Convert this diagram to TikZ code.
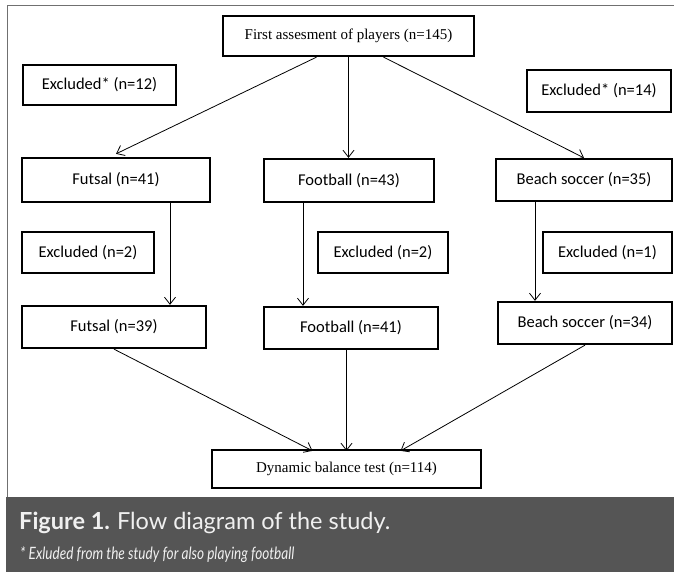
\documentclass[tikz,border=0pt]{standalone}
\usepackage{fontspec}
\setmainfont{Carlito}
\newfontfamily\timesfont{Liberation Serif}
\newfontfamily\capfont{Lato}
\newfontfamily\notefont[FakeStretch=0.8]{Lato}
\usetikzlibrary{arrows.meta}
\definecolor{bandgray}{HTML}{555555}
\definecolor{framegray}{HTML}{707070}

\begin{document}
\begin{tikzpicture}[x=1pt, y=-1pt,
  box/.style 2 args={draw, line width=2.3pt, inner sep=0pt, minimum width=#1, minimum height=#2,
    font=\fontsize{16.5}{19}\selectfont},
  tbox/.style 2 args={box={#1}{#2}, font=\timesfont\fontsize{15}{18}\selectfont},
  arr/.style={-{Straight Barb[length=7pt,width=11pt]}, line width=0.8pt}]

\useasboundingbox (0,0) rectangle (674,572);
\fill[bandgray] (6,497) rectangle (674,572);
\draw[framegray, line width=1pt] (7,497) -- (7,6) -- (674,6);

\node[tbox={251pt}{40pt}] (first) at (348.5,36) {First assesment of players (n=145)};
\node[box={153pt}{40pt}] (exfut) at (99.5,85) {Excluded* (n=12)};
\node[box={144pt}{42pt}] (exbeach) at (599,91) {Excluded* (n=14)};

\node[box={188pt}{44pt}] (futA) at (116,180) {Futsal (n=41)};
\node[box={170pt}{43pt}] (footA) at (349,180.5) {Football (n=43)};
\node[box={176pt}{42pt}] (beachA) at (584,180) {Beach soccer (n=35)};

\node[box={132pt}{41pt}] (exfutB) at (88,252.5) {Excluded (n=2)};
\node[box={130pt}{41pt}] (exfootB) at (383,252.5) {Excluded (n=2)};
\node[box={129pt}{41pt}] (exbeachB) at (607.5,252.5) {Excluded (n=1)};

\node[box={184pt}{42pt}] (futB) at (114,327) {Futsal (n=39)};
\node[box={174pt}{42pt}] (footB) at (351,328) {Football (n=41)};
\node[box={174pt}{42pt}] (beachB) at (585,323) {Beach soccer (n=34)};

\node[tbox={269pt}{38pt}] (dyn) at (346.5,469) {Dynamic balance test (n=114)};

\draw[arr] ([xshift=-32pt]first.south) -- ([yshift=3pt]futA.north);
\draw[arr] (first.south) -- (first.south |- footA.north);
\draw[arr] ([xshift=35pt]first.south) -- (beachA.north);

\draw[arr] ([xshift=54pt]futA.south) -- ([xshift=54pt]futA.south |- futB.north);
\draw[arr] ([xshift=-46pt]footA.south) -- ([xshift=-46pt]footA.south |- footB.north);
\draw[arr] ([xshift=-49pt]beachA.south) -- ([xshift=-49pt]beachA.south |- beachB.north);

\draw[arr] (futB.south) -- ([xshift=-34pt,yshift=-2pt]dyn.north);
\draw[arr] (footB.south -| dyn.north) -- ([yshift=-2pt]dyn.north);
\draw[arr] (beachB.south) -- ([xshift=54pt,yshift=-2pt]dyn.north);

\node[anchor=west, inner sep=0pt, text=white!94!black, font=\capfont\fontsize{23.5}{27}\selectfont] (caption) at (19,523)
  {\textbf{Figure 1.}\hspace{7pt}Flow diagram of the study.};
\node[anchor=west, inner sep=0pt, text=white!94!black, font=\notefont\itshape\fontsize{17}{20}\selectfont] (note) at (20,555)
  {* Exluded from the study for also playing football};
\end{tikzpicture}
\end{document}
